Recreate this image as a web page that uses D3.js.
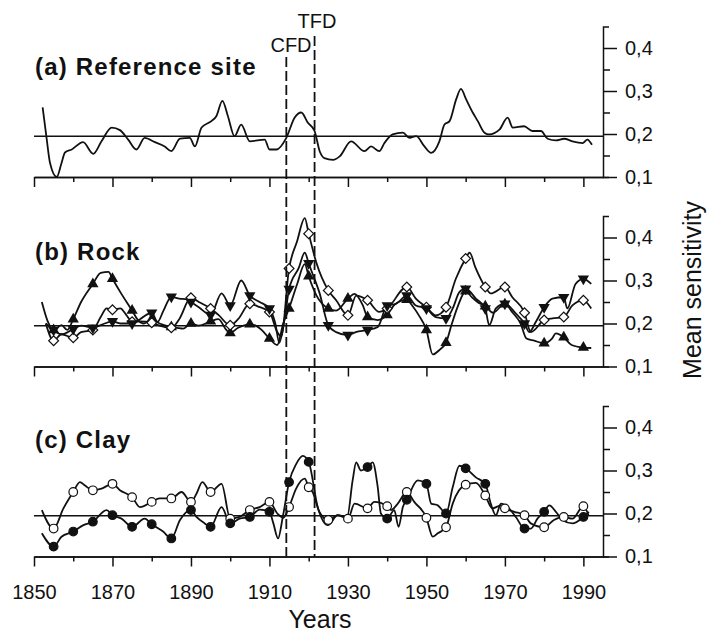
<!DOCTYPE html>
<html>
<head>
<meta charset="utf-8">
<script src="https://cdn.jsdelivr.net/npm/d3@7"></script>
<style>
  body { margin: 0; background: #fff; }
  svg { font-family: "Liberation Sans", Arial, sans-serif; }
  .axis path, .axis line { stroke: #111; stroke-width: 1.5; }
  .axis text { font-size: 20px; fill: #111; }
</style>
</head>
<body>
<div id="chart"></div>
<script>
// Data: [year, mean sensitivity]
const refSite = [[1852.2,0.262],[1853.2,0.191],[1854.1,0.132],[1855.8,0.10],[1857,0.132],[1857.9,0.157],[1859.6,0.164],[1862.5,0.181],[1865.1,0.154],[1867.2,0.183],[1869.8,0.215],[1871.9,0.209],[1874,0.187],[1876.1,0.164],[1878.2,0.191],[1880.8,0.181],[1883.3,0.171],[1885,0.16],[1887.2,0.189],[1889.7,0.191],[1891,0.171],[1892.7,0.215],[1895.2,0.23],[1896.5,0.242],[1898,0.277],[1899.4,0.242],[1901.1,0.195],[1902.8,0.222],[1905,0.183],[1908.8,0.187],[1910,0.164],[1911.8,0.164],[1914.3,0.191],[1916.4,0.238],[1918.1,0.25],[1919.8,0.226],[1921.5,0.207],[1922.8,0.16],[1924,0.144],[1926.2,0.14],[1927.9,0.148],[1930.8,0.183],[1934.2,0.16],[1935.9,0.171],[1938,0.16],[1939.3,0.179],[1941.4,0.199],[1944,0.203],[1945.7,0.191],[1947.4,0.195],[1949.5,0.171],[1951.2,0.156],[1953.3,0.183],[1954.6,0.222],[1955.9,0.23],[1957.6,0.281],[1958.8,0.305],[1960.1,0.281],[1961.8,0.25],[1963.1,0.23],[1964.8,0.203],[1966,0.199],[1968.6,0.21],[1970.7,0.238],[1972,0.215],[1974.9,0.218],[1977,0.207],[1979.2,0.207],[1980.9,0.189],[1983,0.185],[1985.1,0.189],[1987.2,0.183],[1989.8,0.179],[1991,0.187],[1992.2,0.175]];

const rockUp = [[1852,0.25],[1853.5,0.205],[1855,0.185],[1857,0.196],[1858.5,0.185],[1860,0.21],[1862,0.25],[1865,0.292],[1867,0.318],[1869,0.32],[1870,0.304],[1872,0.273],[1875,0.23],[1876.5,0.208],[1878,0.2],[1880,0.21],[1882,0.2],[1885,0.192],[1886.5,0.19],[1888,0.188],[1890,0.2],[1892,0.195],[1895,0.205],[1897,0.21],[1899,0.185],[1900,0.178],[1902,0.19],[1905,0.198],[1906.5,0.195],[1908,0.185],[1910,0.165],[1912,0.15],[1913.5,0.2],[1915,0.235],[1917,0.29],[1919,0.338],[1920,0.31],[1922,0.265],[1925,0.235],[1927,0.23],[1930,0.258],[1931.7,0.269],[1933.8,0.242],[1935,0.215],[1937.6,0.208],[1940,0.22],[1942,0.245],[1945,0.255],[1946.5,0.24],[1948,0.22],[1950,0.185],[1951.6,0.128],[1953.5,0.14],[1955,0.155],[1956.5,0.2],[1958,0.24],[1960,0.275],[1961.5,0.262],[1963,0.25],[1965,0.24],[1967,0.225],[1969,0.24],[1970,0.245],[1972,0.225],[1974,0.2],[1975.5,0.165],[1977.5,0.16],[1980,0.154],[1982,0.165],[1983,0.177],[1985,0.168],[1987,0.15],[1990,0.144],[1992,0.143]];

const rockDown = [[1853,0.2],[1855,0.185],[1857,0.175],[1860,0.187],[1862,0.195],[1865,0.19],[1868,0.2],[1870,0.205],[1872,0.2],[1875,0.2],[1877,0.21],[1880,0.225],[1881.5,0.204],[1883,0.23],[1885,0.262],[1887,0.258],[1889,0.256],[1890,0.25],[1892,0.238],[1895,0.22],[1897.8,0.27],[1900,0.242],[1902.8,0.30],[1905,0.265],[1907.5,0.25],[1910,0.235],[1911.5,0.2],[1912.5,0.155],[1914,0.22],[1915,0.28],[1917.5,0.33],[1919,0.365],[1920,0.34],[1921,0.315],[1922.7,0.273],[1925,0.196],[1927,0.18],[1930,0.173],[1932,0.18],[1935,0.185],[1937.6,0.192],[1940,0.242],[1942.3,0.246],[1945,0.265],[1947.3,0.242],[1950,0.235],[1952.4,0.215],[1955,0.212],[1956.7,0.235],[1958.4,0.273],[1960,0.281],[1962.6,0.258],[1965,0.235],[1966,0.196],[1967.7,0.235],[1970,0.246],[1972.8,0.223],[1975,0.2],[1976.2,0.18],[1977.9,0.204],[1980,0.238],[1982.1,0.258],[1985,0.261],[1985.9,0.235],[1988,0.292],[1990,0.304],[1992,0.292]];

const rockDiamond = [[1853,0.2],[1855,0.16],[1857,0.175],[1860,0.167],[1862,0.18],[1865,0.185],[1867,0.215],[1868.5,0.235],[1870,0.232],[1872,0.235],[1873.5,0.22],[1875,0.204],[1877,0.205],[1880,0.202],[1882,0.195],[1885,0.19],[1887,0.21],[1890,0.26],[1892,0.25],[1895,0.235],[1897,0.22],[1900,0.196],[1902,0.21],[1905,0.246],[1907,0.24],[1910,0.227],[1912,0.18],[1913,0.17],[1915,0.328],[1917,0.39],[1919,0.445],[1920,0.409],[1922,0.34],[1925,0.277],[1927,0.254],[1930,0.219],[1932.1,0.265],[1935,0.254],[1938,0.227],[1940,0.235],[1945,0.285],[1947.3,0.258],[1950,0.238],[1952.4,0.219],[1955,0.238],[1957.5,0.304],[1960,0.351],[1961,0.365],[1962.5,0.33],[1965,0.285],[1966.4,0.27],[1970,0.285],[1971.9,0.261],[1975,0.225],[1976.6,0.18],[1980,0.208],[1982.1,0.212],[1985,0.215],[1987.2,0.242],[1990,0.254],[1992,0.235]];

const clayFilled = [[1852,0.154],[1855,0.123],[1857,0.146],[1860,0.158],[1862.6,0.173],[1865,0.181],[1868.5,0.208],[1870,0.196],[1872.3,0.188],[1875,0.169],[1878.2,0.188],[1880,0.175],[1882.9,0.158],[1885,0.142],[1887.2,0.185],[1890,0.208],[1891.4,0.192],[1893.5,0.177],[1895,0.169],[1897.8,0.215],[1900,0.177],[1902.4,0.188],[1905,0.192],[1907.5,0.209],[1910,0.204],[1911,0.177],[1912.2,0.142],[1913.4,0.192],[1915,0.273],[1916.8,0.315],[1918.5,0.334],[1920,0.32],[1922.3,0.215],[1924.9,0.173],[1927.4,0.196],[1929.8,0.192],[1931.2,0.277],[1932.1,0.319],[1933.3,0.3],[1935,0.308],[1936.3,0.319],[1937.6,0.261],[1938.4,0.2],[1940,0.188],[1941.8,0.208],[1942.9,0.169],[1944,0.215],[1945,0.232],[1947.8,0.277],[1950,0.269],[1951.2,0.223],[1952.9,0.219],[1955,0.2],[1956.7,0.261],[1958.4,0.311],[1960,0.305],[1962.6,0.284],[1965,0.269],[1966.4,0.223],[1967.7,0.196],[1969,0.223],[1970.7,0.215],[1972.8,0.192],[1975,0.165],[1976.6,0.165],[1978.3,0.188],[1980,0.204],[1981.3,0.219],[1983,0.204],[1984.7,0.185],[1987.2,0.177],[1990,0.192],[1991.4,0.204]];

const clayOpen = [[1852,0.208],[1855,0.165],[1857.5,0.212],[1860,0.25],[1861.7,0.273],[1863,0.265],[1865,0.254],[1867.2,0.258],[1870,0.269],[1871.9,0.254],[1875,0.238],[1877,0.215],[1880,0.227],[1882,0.235],[1885,0.235],[1887.6,0.25],[1890,0.227],[1891.4,0.246],[1892.9,0.273],[1895,0.25],[1897.8,0.269],[1900,0.188],[1902.4,0.192],[1905,0.208],[1907.5,0.215],[1910,0.227],[1912,0.2],[1913.5,0.19],[1915,0.215],[1916.8,0.258],[1919,0.281],[1920,0.261],[1921,0.25],[1922.7,0.204],[1925,0.185],[1927.4,0.196],[1930,0.188],[1931.7,0.223],[1935,0.212],[1936.7,0.227],[1940,0.217],[1941,0.208],[1942.7,0.223],[1945,0.25],[1946.9,0.227],[1950,0.19],[1951.6,0.146],[1952.9,0.154],[1955,0.168],[1956.7,0.223],[1960,0.267],[1962.6,0.271],[1965,0.242],[1966.8,0.212],[1969,0.219],[1970,0.212],[1972.4,0.204],[1975,0.196],[1976.6,0.177],[1980,0.168],[1982.5,0.185],[1985,0.192],[1987.2,0.188],[1990,0.217],[1991.3,0.196]];

const majorYears = [1850, 1870, 1890, 1910, 1930, 1950, 1970, 1990];
const minorYears = [1860, 1880, 1900, 1920, 1940, 1960, 1980];
const yTicks = [0.1, 0.2, 0.3, 0.4];
const yMinorTicks = [0.15, 0.25, 0.35];
const baseline = 0.195;
const cfdYear = 1914.3;
const tfdYear = 1921.5;

const width = 708, height = 633;
const svg = d3.select("#chart").append("svg")
  .attr("width", width)
  .attr("height", height);

const x = d3.scaleLinear().domain([1850, 1995]).range([34, 603]);

const panels = [
  { title: "(a) Reference site", bottom: 177, titleY: 75, series: [{ data: refSite, marker: null }] },
  { title: "(b) Rock", bottom: 366.5, titleY: 260, series: [
      { data: rockUp, marker: "up" },
      { data: rockDiamond, marker: "diamond" },
      { data: rockDown, marker: "down" }] },
  { title: "(c) Clay", bottom: 556.5, titleY: 448, series: [
      { data: clayOpen, marker: "open" },
      { data: clayFilled, marker: "filled" }] }
];

const fmt = d => d3.format(".1f")(d).replace(".", ",");

panels.forEach((p, i) => {
  const y = d3.scaleLinear().domain([0.1, 0.45]).range([p.bottom, p.bottom - 150.5]);
  const g = svg.append("g");

  // reference line
  g.append("line")
    .attr("x1", x(1850)).attr("x2", x(1995))
    .attr("y1", y(baseline)).attr("y2", y(baseline))
    .attr("stroke", "#111").attr("stroke-width", 1.5);

  // bottom axis: major + minor ticks
  const last = i === panels.length - 1;
  g.append("g").attr("class", "axis")
    .attr("transform", `translate(0,${p.bottom})`)
    .call(d3.axisBottom(x).tickValues(majorYears).tickSize(10).tickSizeOuter(0)
      .tickPadding(18).tickFormat(last ? d3.format("d") : ""));
  g.append("g").attr("class", "axis")
    .attr("transform", `translate(0,${p.bottom})`)
    .call(d3.axisBottom(x).tickValues(minorYears).tickSize(5).tickSizeOuter(0).tickFormat(""));

  // right axis
  g.append("g").attr("class", "axis")
    .attr("transform", `translate(${x(1995)},0)`)
    .call(d3.axisRight(y).tickValues(yTicks).tickSize(14).tickSizeOuter(6)
      .tickPadding(8).tickFormat(fmt));
  g.append("g").attr("class", "axis")
    .attr("transform", `translate(${x(1995)},0)`)
    .call(d3.axisRight(y).tickValues(yMinorTicks).tickSize(7).tickSizeOuter(0).tickFormat(""))
    .select(".domain").remove();

  // title
  g.append("text")
    .attr("x", 35).attr("y", p.titleY)
    .attr("font-size", 24).attr("font-weight", "bold")
    .attr("letter-spacing", 1.2)
    .attr("fill", "#111")
    .text(p.title);

  const line = d3.line()
    .x(d => x(d[0])).y(d => y(d[1]))
    .curve(d3.curveMonotoneX);

  p.series.forEach(s => {
    g.append("path")
      .datum(s.data)
      .attr("fill", "none")
      .attr("stroke", "#111")
      .attr("stroke-width", 1.8)
      .attr("d", line);
  });

  p.series.forEach(s => {
    if (!s.marker) return;
    const pts = s.data.filter(d => d[0] % 5 === 0);
    const m = g.selectAll(null).data(pts).enter();
    if (s.marker === "up" || s.marker === "down") {
      m.append("path")
        .attr("d", d3.symbol().type(d3.symbolTriangle).size(55))
        .attr("transform", d => `translate(${x(d[0])},${y(d[1])}) rotate(${s.marker === "down" ? 180 : 0})`)
        .attr("fill", "#111");
    } else if (s.marker === "diamond") {
      m.append("path")
        .attr("d", d3.symbol().type(d3.symbolSquare).size(48))
        .attr("transform", d => `translate(${x(d[0])},${y(d[1])}) rotate(45)`)
        .attr("fill", "#fff").attr("stroke", "#111").attr("stroke-width", 1.2);
    } else {
      m.append("circle")
        .attr("cx", d => x(d[0])).attr("cy", d => y(d[1]))
        .attr("r", 4.3)
        .attr("fill", s.marker === "filled" ? "#111" : "#fff")
        .attr("stroke", "#111").attr("stroke-width", 1.2);
    }
  });
});

// CFD / TFD dashed markers
svg.append("line")
  .attr("x1", x(cfdYear)).attr("x2", x(cfdYear))
  .attr("y1", 57).attr("y2", 556.5)
  .attr("stroke", "#111").attr("stroke-width", 1.8).attr("stroke-dasharray", "10,4");
svg.append("line")
  .attr("x1", x(tfdYear)).attr("x2", x(tfdYear))
  .attr("y1", 36).attr("y2", 556.5)
  .attr("stroke", "#111").attr("stroke-width", 1.8).attr("stroke-dasharray", "10,4");

svg.append("text")
  .attr("x", x(tfdYear) - 3).attr("y", 52)
  .attr("text-anchor", "end").attr("font-size", 20).attr("fill", "#111")
  .text("CFD");
svg.append("text")
  .attr("x", x(tfdYear) - 17).attr("y", 28)
  .attr("font-size", 20).attr("fill", "#111")
  .text("TFD");

// axis titles
svg.append("text")
  .attr("x", 320).attr("y", 628)
  .attr("text-anchor", "middle").attr("font-size", 25).attr("fill", "#111")
  .text("Years");
svg.append("text")
  .attr("transform", "translate(701,290) rotate(-90)")
  .attr("text-anchor", "middle").attr("font-size", 25).attr("fill", "#111")
  .text("Mean sensitivity");
</script>
</body>
</html>
